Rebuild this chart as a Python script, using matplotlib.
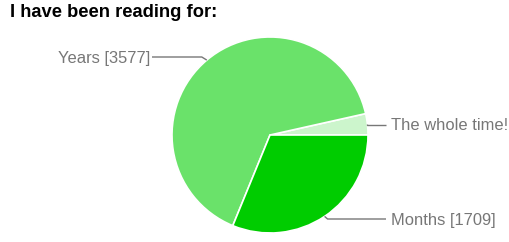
import numpy as np
import matplotlib
matplotlib.use("Agg")
import matplotlib.pyplot as plt

title = "I have been reading for:"
categories = ["The whole time!", "Years", "Months"]
values = [192, 3577, 1709]
labels = ["The whole time!", "Years [3577]", "Months [1709]"]
colors = ["#ccf5cc", "#6ae26a", "#00cc00"]

W, H = 510, 242
fig = plt.figure(figsize=(W / 100, H / 100), dpi=100)
ax = fig.add_axes([0, 0, 1, 1])

cx, cy, r = 270, H - 135, 98
wedges, _ = ax.pie(values, colors=colors, startangle=0, counterclock=True,
                   center=(cx, cy), radius=r, frame=True,
                   wedgeprops=dict(edgecolor="white", linewidth=1.2))
ax.set_xlim(0, W)
ax.set_ylim(0, H)
ax.set_aspect("equal")
ax.axis("off")

# label layout: (label y in px from top, side)
layout = {"The whole time!": (125, "right"), "Years": (57, "left"), "Months": (219, "right")}
font = dict(family=["Liberation Sans", "DejaVu Sans"], size=11.9, color="#777777")
for w, cat, lab in zip(wedges, categories, labels):
    mid = np.deg2rad((w.theta1 + w.theta2) / 2)
    ex, ey = cx + r * np.cos(mid), cy + r * np.sin(mid)
    ly, side = layout[cat]
    ly = H - ly
    if side == "right":
        bx = ex + (3 if abs(ey - ly) > 1 else 0)
        ax.plot([ex, bx, 386], [ey, ly, ly], color="#777777", lw=1, solid_capstyle="butt")
        ax.text(391, ly - 1, lab, ha="left", va="center", **font)
    else:
        bx = ex - 5
        ax.plot([ex, bx, 152], [ey, ly, ly], color="#777777", lw=1, solid_capstyle="butt")
        ax.text(150, ly - 1, lab, ha="right", va="center", **font)

fig.text(10 / W, 1 - 17 / H, title, ha="left", va="baseline",
         family=["Liberation Sans", "DejaVu Sans"], weight="bold", size=13.2, color="black")

fig.savefig("out.png", dpi=100, facecolor="white")
